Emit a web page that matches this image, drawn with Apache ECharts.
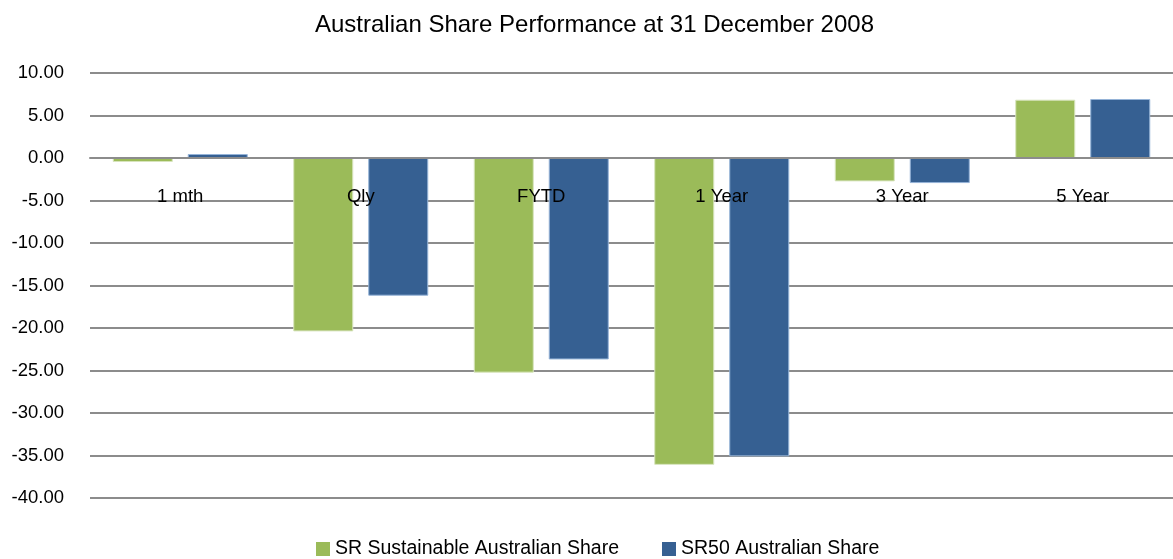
<!DOCTYPE html>
<html>
<head>
<meta charset="utf-8">
<script src="https://cdn.jsdelivr.net/npm/echarts@6/dist/echarts.min.js"></script>
<style>
html, body { margin: 0; padding: 0; background: #fff; }
#chart { width: 1173px; height: 559px; }
</style>
</head>
<body>
<div id="chart"></div>
<script>
var categories = ['1 mth', 'Qly', 'FYTD', '1 Year', '3 Year', '5 Year'];
var sustainable = [-0.47, -20.4, -25.25, -36.1, -2.75, 6.86];
var sr50 = [0.47, -16.2, -23.7, -35.1, -2.95, 6.94];
var seriesNames = ['SR Sustainable Australian Share', 'SR50 Australian Share'];
var yMin = -40, yMax = 10, yStep = 5;

var FONT = '"Liberation Sans", Arial, sans-serif';
var gridTop = 73, gridHeight = 425;
// category labels sit under the zero line, like Excel's "next to axis"
var zeroOffset = -gridHeight * (0 - yMin) / (yMax - yMin);

var myChart = echarts.init(document.getElementById('chart'));
myChart.setOption({
    backgroundColor: '#fff',
    animation: false,
    textStyle: { fontFamily: FONT },
    title: {
        text: 'Australian Share Performance at 31 December 2008',
        left: 310,
        top: 8,
        textStyle: { fontFamily: FONT, fontSize: 24, fontWeight: 'normal', color: '#000' }
    },
    legend: {
        data: seriesNames,
        bottom: -5,
        left: 311,
        itemWidth: 14,
        itemHeight: 14,
        itemGap: 43,
        icon: 'rect',
        itemStyle: { borderWidth: 0 },
        textStyle: { fontFamily: FONT, fontSize: 19.5, color: '#000' }
    },
    grid: { left: 90, top: gridTop, width: 1089, height: gridHeight },
    xAxis: {
        type: 'category',
        data: categories,
        position: 'bottom',
        offset: zeroOffset,
        z: 5,
        axisLine: { onZero: false, lineStyle: { color: '#8c8c8c', width: 2 } },
        axisTick: { show: false },
        axisLabel: { margin: 29, fontFamily: FONT, fontSize: 18.5, color: '#000' }
    },
    yAxis: {
        type: 'value',
        min: yMin,
        max: yMax,
        interval: yStep,
        axisLine: { show: false },
        axisTick: { show: false },
        splitLine: { lineStyle: { color: '#8c8c8c', width: 2 } },
        axisLabel: {
            margin: 26,
            fontFamily: FONT,
            fontSize: 18.5,
            color: '#000',
            formatter: function (v) { return v.toFixed(2); }
        }
    },
    series: [
        {
            name: seriesNames[0],
            type: 'bar',
            data: sustainable,
            barWidth: 60,
            barGap: '25%',
            itemStyle: { color: '#9bbb59', borderColor: '#d7e4bd', borderWidth: 1 }
        },
        {
            name: seriesNames[1],
            type: 'bar',
            data: sr50,
            barWidth: 60,
            itemStyle: { color: '#366092', borderColor: '#95b3d7', borderWidth: 1 }
        }
    ]
});
</script>
</body>
</html>
